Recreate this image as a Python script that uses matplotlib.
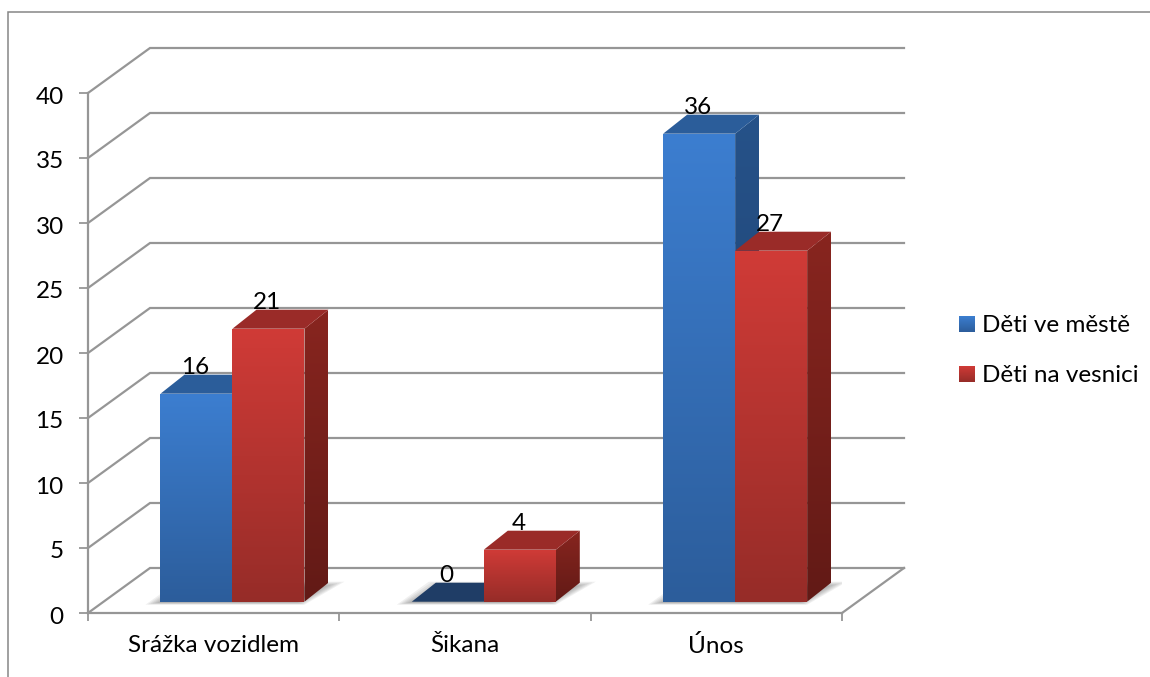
import numpy as np
import matplotlib
matplotlib.use('Agg')
import matplotlib.pyplot as plt
from matplotlib.lines import Line2D
from matplotlib.patches import Polygon
from matplotlib.colors import LinearSegmentedColormap
from matplotlib.transforms import ScaledTranslation

plt.rcParams['font.family'] = ['Lato', 'DejaVu Sans']

# data
categories = ['Srážka vozidlem', 'Šikana', 'Únos']
series_names = ['Děti ve městě', 'Děti na vesnici']
mesto = [16, 0, 36]
vesnice = [21, 4, 27]
y_ticks = [0, 5, 10, 15, 20, 25, 30, 35, 40]

W, H = 1150, 677
LEFT, RIGHT, TOP, BOTTOM = 88, 842, 93, 613
PX_CAT = (RIGHT - LEFT) / len(categories)
PX_UNIT = (BOTTOM - TOP) / (y_ticks[-1] - y_ticks[0])
GRID = '#969696'
FS = 17.5


def px_x(p):
    return p / PX_CAT


def px_y(p):
    return p / PX_UNIT


# colours: front top, front bottom, top face, side top, side bottom
blue = ['#3c7ed0', '#2c5d9b', '#2b5d9a', '#265289', '#1d3f6c']
red = ['#d03b37', '#962c28', '#9a2b28', '#88251f', '#621a16']
blue_flat = '#1f3d66'

fig = plt.figure(figsize=(W / 100, H / 100), dpi=100)
ax = fig.add_axes([LEFT / W, (H - BOTTOM) / H, (RIGHT - LEFT) / W, (BOTTOM - TOP) / H])
ax.set_xlim(0, len(categories))
ax.set_ylim(y_ticks[0], y_ticks[-1])
ax.set_autoscale_on(False)


def gradient_poly(pts, c_top, c_bottom, zorder):
    pts = np.array(pts)
    cmap = LinearSegmentedColormap.from_list('g', [c_top, c_bottom])
    grad = np.linspace(0, 1, 256).reshape(-1, 1)
    im = ax.imshow(grad, cmap=cmap, aspect='auto', interpolation='bilinear', zorder=zorder,
                   extent=[pts[:, 0].min(), pts[:, 0].max(), pts[:, 1].min(), pts[:, 1].max()])
    im.set_clip_path(Polygon(pts, transform=ax.transData))
    im.set_clip_box(fig.bbox)


# back wall and side wall
wall_x = px_x(62)
wall_y = px_y(45)
for v in y_ticks:
    ax.plot([0, wall_x, len(categories) + wall_x], [v, v + wall_y, v + wall_y],
            color=GRID, lw=1.6, clip_on=False, zorder=1, solid_joinstyle='miter')
ax.plot([len(categories), len(categories) + wall_x], [0, wall_y], color=GRID, lw=1.6,
        clip_on=False, zorder=1)

# bars
bar_w = px_x(72)
shift = px_x(18.8)
base = px_y(11.3)
depth_x = px_x(24)
depth_y = px_y(19)

# soft shadow on the floor, behind each pair
for i in range(len(categories)):
    c = i + 0.5 + shift
    x0, x1 = c - bar_w - px_x(15), c + bar_w
    for k in range(8):
        g = k * 2.4
        pts = [(x0 + px_x(g), base - px_y(3 - g / 6)),
               (x1 - px_x(g / 2), base - px_y(3 - g / 6)),
               (x1 + px_x(40 - g * 1.4), base + px_y(20 - g / 3)),
               (x0 + px_x(32 + g), base + px_y(20 - g / 3))]
        ax.add_patch(Polygon(pts, closed=True, fc='#404040', ec='none', alpha=0.08, zorder=2))

for s, (vals, col) in enumerate(zip([mesto, vesnice], [blue, red])):
    for i, v in enumerate(vals):
        c = i + 0.5 + shift
        x0 = c - bar_w + s * bar_w
        x1 = x0 + bar_w
        y0, y1 = base, base + v
        z = 3 + s + i * 0.1
        if v > 0:
            gradient_poly([(x0, y0), (x1, y0), (x1, y1), (x0, y1)], col[0], col[1], z + 0.02)
            gradient_poly([(x1, y0), (x1 + depth_x, y0 + depth_y), (x1 + depth_x, y1 + depth_y), (x1, y1)],
                          col[3], col[4], z)
        top_col = col[2] if v > 0 else blue_flat
        ax.add_patch(Polygon([(x0, y1), (x1, y1), (x1 + depth_x, y1 + depth_y), (x0 + depth_x, y1 + depth_y)],
                             closed=True, fc=top_col, ec='none', zorder=z + 0.01))
        ax.text((x0 + x1) / 2 - px_x(1), y1 + px_y(28), str(v), ha='center', va='center_baseline',
                fontsize=FS, color='black', zorder=6, clip_on=False)

# axes
for side in ['top', 'right']:
    ax.spines[side].set_visible(False)
for side in ['left', 'bottom']:
    ax.spines[side].set_color(GRID)
    ax.spines[side].set_linewidth(1.6)
ax.set_yticks(y_ticks)
ax.set_xticks(range(len(categories) + 1))
ax.set_xticklabels([])
ax.set_xticks(np.arange(len(categories)) + 0.5, minor=True)
ax.set_xticklabels(categories, minor=True, fontsize=FS)
ax.tick_params(axis='y', length=6.5, width=1.3, color=GRID, pad=11, labelsize=FS)
ax.tick_params(axis='x', which='major', length=6, width=1.3, color=GRID)
ax.tick_params(axis='x', which='minor', length=0, pad=16)
down = ScaledTranslation(0, -2 / 100, fig.dpi_scale_trans)
for lab in ax.get_yticklabels():
    lab.set_va('center_baseline')
    lab.set_transform(lab.get_transform() + down)

# legend
legend_y = [324, 374]
for name, col, ly in zip(series_names, [blue, red], legend_y):
    sw = fig.add_axes([959 / W, (H - ly - 8) / H, 16 / W, 16 / H])
    sw.imshow(np.linspace(0, 1, 64).reshape(-1, 1), aspect='auto',
              cmap=LinearSegmentedColormap.from_list('l', [col[0], col[1]]))
    sw.axis('off')
    fig.text(982 / W, (H - ly) / H, name, ha='left', va='center_baseline', fontsize=FS, color='black')

# chart frame
fig.add_artist(Line2D([8 / W, 8 / W, 1], [0, (H - 12) / H, (H - 12) / H], color='#868686', lw=1.1,
                      solid_joinstyle='miter'))

fig.savefig('out.png', dpi=100, facecolor='white')
